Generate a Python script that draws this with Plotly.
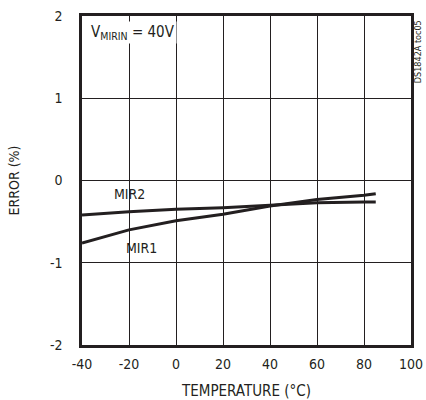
import plotly.graph_objects as go

temp = [-40, -20, 0, 20, 40, 60, 80, 85]
mir1 = [-0.76, -0.60, -0.49, -0.41, -0.31, -0.23, -0.18, -0.16]
mir2 = [-0.42, -0.38, -0.35, -0.33, -0.30, -0.27, -0.26, -0.26]
xticks = [-40, -20, 0, 20, 40, 60, 80, 100]
xticklabels = ["-40", "-20", "0", "20", "40", "60", "80", "100"]
yticks = [-2, -1, 0, 1, 2]
yticklabels = ["-2", "-1", "0", "1", "2"]

FONT = "DejaVu Sans Condensed, Liberation Sans Narrow, sans-serif"
INK = "#231f20"

fig = go.Figure()
fig.add_trace(go.Scatter(x=temp, y=mir1, mode="lines", line=dict(color=INK, width=3), name="MIR1"))
fig.add_trace(go.Scatter(x=temp, y=mir2, mode="lines", line=dict(color=INK, width=3), name="MIR2"))

fig.update_layout(
    width=426, height=400,
    margin=dict(l=82, r=15, t=16, b=55),
    paper_bgcolor="white", plot_bgcolor="white",
    showlegend=False,
    font=dict(family=FONT, size=14, color=INK),
)
fig.update_xaxes(
    range=[-40, 100], tickvals=xticks, ticktext=xticklabels, showgrid=True, gridcolor=INK, gridwidth=1,
    showline=True, linecolor=INK, linewidth=2.5, mirror=True, zeroline=False,
    ticks="", ticklabelstandoff=4, automargin=False,
    title=dict(text="TEMPERATURE (°C)", standoff=19, font=dict(size=15)),
)
fig.update_yaxes(
    range=[-2, 2], tickvals=yticks, ticktext=yticklabels, showgrid=True, gridcolor=INK, gridwidth=1,
    showline=True, linecolor=INK, linewidth=2.5, mirror=True, zeroline=False,
    ticks="", ticklabelstandoff=14, automargin=False,
    title=dict(text="ERROR (%)", standoff=27, font=dict(size=14)),
)

fig.add_annotation(x=-37, y=1.8, xref="x", yref="y", xanchor="left", yanchor="middle",
                   text="V<sub>MIRIN</sub> = 40V", showarrow=False, bgcolor="white",
                   font=dict(size=15, family=FONT))
fig.add_annotation(x=-20, y=-0.17, xref="x", yref="y", text="MIR2", showarrow=False,
                   font=dict(size=14, family=FONT))
fig.add_annotation(x=-14.5, y=-0.82, xref="x", yref="y", text="MIR1", showarrow=False,
                   font=dict(size=14, family=FONT))
fig.add_annotation(x=1.0, y=0.89, xref="paper", yref="paper", xanchor="center", yanchor="middle",
                   xshift=7, text="DS1842A toc05", textangle=-90, showarrow=False,
                   font=dict(size=9, family=FONT))

fig.write_html("out.html", config={"displayModeBar": False},
               post_script="document.body.style.margin='0px';")
